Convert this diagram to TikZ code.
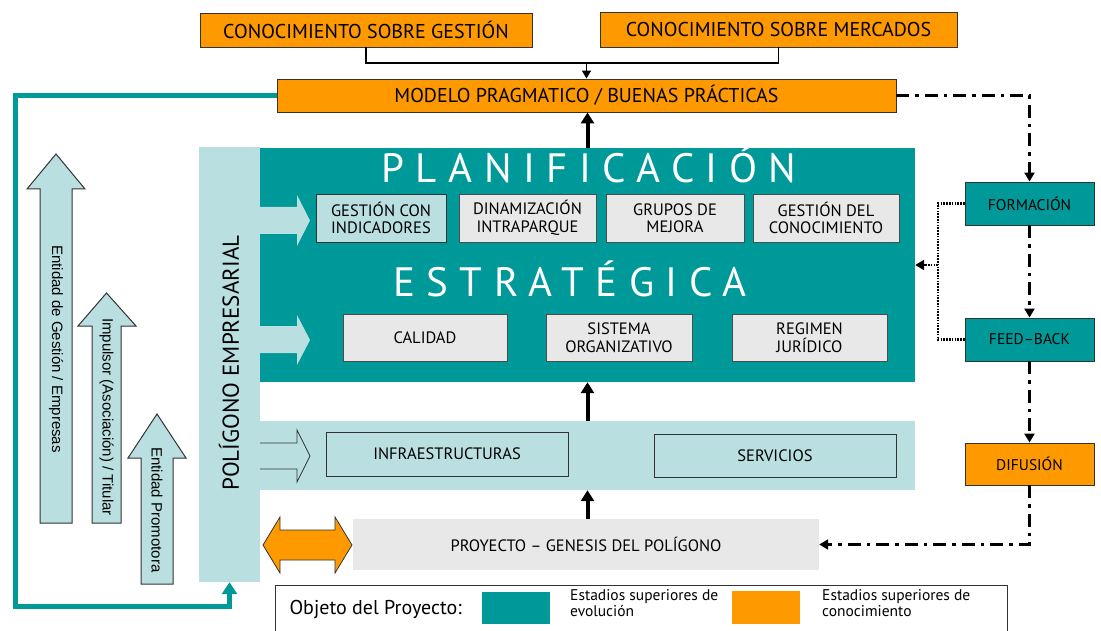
\documentclass[tikz,border=0pt]{standalone}
\usepackage{fontspec}
\setmainfont{PT Sans}
\newfontfamily\arialf{Liberation Sans}
\usetikzlibrary{arrows.meta}
\definecolor{teal1}{RGB}{0,153,153}
\definecolor{lteal}{RGB}{185,223,225}
\definecolor{orng}{RGB}{255,153,0}
\definecolor{lgrey}{RGB}{232,232,232}
\tikzset{
  obox/.style={draw=black!80, line width=0.9pt, fill=orng, inner sep=0pt, align=center, font=\fontsize{20}{22}\selectfont},
  tbox/.style={draw=black!80, line width=0.9pt, fill=teal1, inner sep=0pt, align=center, font=\fontsize{15.5}{17}\selectfont},
  gbox/.style={draw=black!70, line width=0.8pt, fill=lgrey, inner sep=0pt, align=center, font=\fontsize{16.5}{17.5}\selectfont},
  lbox/.style={draw=black!80, line width=0.8pt, fill=lteal, inner sep=0pt, align=center, font=\fontsize{16.5}{17.5}\selectfont},
  area/.style={inner sep=0pt},
  thickarr/.style={line width=4pt, -{Triangle[width=13pt,length=11pt]}},
  dd/.style={line width=3.5pt, dash pattern=on 13pt off 6pt on 3.5pt off 6pt},
  ddarr/.style={dd, -{Triangle[width=10pt,length=9pt]}},
  dotl/.style={line width=2.5pt, dash pattern=on 1.6pt off 1.2pt},
  dotarr/.style={dotl, -{Triangle[width=10pt,length=9pt]}},
  upar/.style={fill=lteal, draw=black!80, line width=1pt, line join=miter},
  uptext/.style={rotate=-90, font=\arialf\fontsize{15}{16}\selectfont},
  title/.style={text=white, font=\fontsize{41}{42}\selectfont\addfontfeature{LetterSpace=28}},
}
\begin{document}
\begin{tikzpicture}[x=1pt,y=-1pt]
\useasboundingbox (0,0) rectangle (1101,631);
% areas
\node[area, fill=teal1, minimum width=655pt, minimum height=234pt] (plan) at (587.5,265) {};
\node[area, fill=lteal, minimum width=61pt, minimum height=435pt] (pol) at (229.5,364.5) {};
\node[area, fill=lteal, minimum width=655pt, minimum height=69pt] (band) at (587.5,455.5) {};
% light arrows into planning
\fill[lteal] (260,207) -- (297,207) -- (297,195) -- (310,220.5) -- (297,246) -- (297,234) -- (260,234) -- cycle;
\fill[lteal] (260,326) -- (297,326) -- (297,315) -- (310,340) -- (297,365) -- (297,353) -- (260,353) -- cycle;
% outline arrow in band
\draw[black!80, line width=0.8pt, line join=miter] (260,443) -- (297,443) -- (297,430) -- (310,456) -- (297,482) -- (297,469) -- (260,469);
\node[rotate=90, font=\fontsize{23}{24}\selectfont] (poltext) at (229,363) {POLÍGONO EMPRESARIAL};
% titles
\node[title] (t1) at (589,165) {PLANIFICACIÓN};
\node[title] (t2) at (570,279) {ESTRATÉGICA};
% top
\node[obox, minimum width=332pt, minimum height=34pt] (g1) at (366,30) {CONOCIMIENTO SOBRE GESTIÓN};
\node[obox, minimum width=357pt, minimum height=35pt] (g2) at (778.5,29.5) {CONOCIMIENTO SOBRE MERCADOS};
\node[obox, minimum width=619pt, minimum height=33pt] (mod) at (586.5,95.5) {MODELO PRAGMATICO / BUENAS PRÁCTICAS};
% inner boxes
\node[lbox, minimum width=130pt, minimum height=48pt] (b11) at (381,218) {GESTIÓN CON\\INDICADORES};
\node[gbox, minimum width=137pt, minimum height=48pt] (b12) at (527.5,218) {DINAMIZACIÓN\\INTRAPARQUE};
\node[gbox, minimum width=138pt, minimum height=48pt] (b13) at (675,218) {GRUPOS DE\\MEJORA};
\node[gbox, minimum width=146pt, minimum height=48pt] (b14) at (826,218) {GESTIÓN DEL\\CONOCIMIENTO};
\node[gbox, minimum width=164pt, minimum height=47pt] (b21) at (425,337.5) {CALIDAD};
\node[gbox, minimum width=146pt, minimum height=47pt] (b22) at (619,337.5) {SISTEMA\\ORGANIZATIVO};
\node[gbox, minimum width=155pt, minimum height=47pt] (b23) at (809.5,337.5) {REGIMEN\\JURÍDICO};
\node[lbox, minimum width=242pt, minimum height=44pt] (infra) at (447,454) {INFRAESTRUCTURAS};
\node[lbox, minimum width=242pt, minimum height=43pt] (serv) at (775,455.5) {SERVICIOS};
\node[area, fill=lgrey, minimum width=466pt, minimum height=51pt, font=\fontsize{16.5}{17.5}\selectfont] (proy) at (586,544.5) {PROYECTO – GENESIS DEL POLÍGONO};
% right boxes
\node[tbox, minimum width=129pt, minimum height=43pt] (form) at (1029.5,203.5) {FORMACIÓN};
\node[tbox, minimum width=129pt, minimum height=43pt] (feed) at (1029.5,339.5) {FEED–BACK};
\node[obox, minimum width=129pt, minimum height=42pt, font=\fontsize{15.5}{17}\selectfont] (dif) at (1029.5,464) {DIFUSIÓN};
% orange double arrow
\draw[fill=orng, draw=black!80, line width=0.8pt, line join=miter] (263,545) -- (280,517) -- (280,530) -- (335,530) -- (335,517) -- (352,545) -- (335,573) -- (335,560) -- (280,560) -- (280,573) -- cycle;
% left up arrows
\draw[upar] (40,523) -- (40,189) -- (27,189) -- (56,154) -- (85,189) -- (72,189) -- (72,523) -- cycle;
\draw[upar] (92,523) -- (92,326) -- (78,326) -- (106.5,293) -- (136,326) -- (121,326) -- (121,523) -- cycle;
\draw[upar] (141,584) -- (141,458) -- (128,458) -- (157,414) -- (186,458) -- (173,458) -- (173,584) -- cycle;
\node[uptext] (e1) at (56,349) {Entidad de Gestión / Empresas};
\node[uptext] (e2) at (106.5,417) {Impulsor (Asociación) / Titular};
\node[uptext] (e3) at (157,510) {Entidad Promotora};
% connectors
\coordinate (j) at (586.5,63);
\draw[black, line width=1.5pt] (g1.south) |- (j) -| (g2.south);
\draw[black, line width=1.5pt, -{Triangle[width=9pt,length=8pt]}] (j) -- (mod.north);
\draw[thickarr] (plan.north) -- (plan.north |- mod.south);
\draw[thickarr] (band.north) -- (band.north |- plan.south);
\draw[thickarr] (band.south |- proy.north) -- (band.south);
\draw[teal1, line width=5pt, -{Triangle[width=15pt,length=12pt]}] (mod.west) -- (15,95.5) -- (15,606) -| (pol.south);
\draw[ddarr] (mod.east) -| (form.north);
\draw[ddarr] (form.south) -- (feed.north);
\draw[ddarr] (feed.south) -- (dif.north);
\draw[ddarr] (dif.south) |- (proy.east);
\draw[dotl] (form.west) -- (938,203.5) |- (feed.west);
\coordinate (dj) at (938,265);
\draw[dotarr] (dj) -- (plan.east);
% legend
\draw[black!80, line width=1pt] (275,640) -- (275,585) -- (1007,585) -- (1007,640);
\node[anchor=west, font=\fontsize{20}{22}\selectfont] (lg) at (286,609) {Objeto del Proyecto:};
\node[area, fill=teal1, minimum width=68pt, minimum height=32pt] (sw1) at (516,607.5) {};
\node[anchor=north west, align=left, inner sep=0pt, font=\fontsize{15.5}{16.5}\selectfont] (lt1) at (570,589) {Estadios superiores de\\evolución};
\node[area, fill=orng, minimum width=68pt, minimum height=33pt] (sw2) at (766,607.5) {};
\node[anchor=north west, align=left, inner sep=0pt, font=\fontsize{15.5}{16.5}\selectfont] (lt2) at (822,589) {Estadios superiores de\\conocimiento};
\end{tikzpicture}
\end{document}
